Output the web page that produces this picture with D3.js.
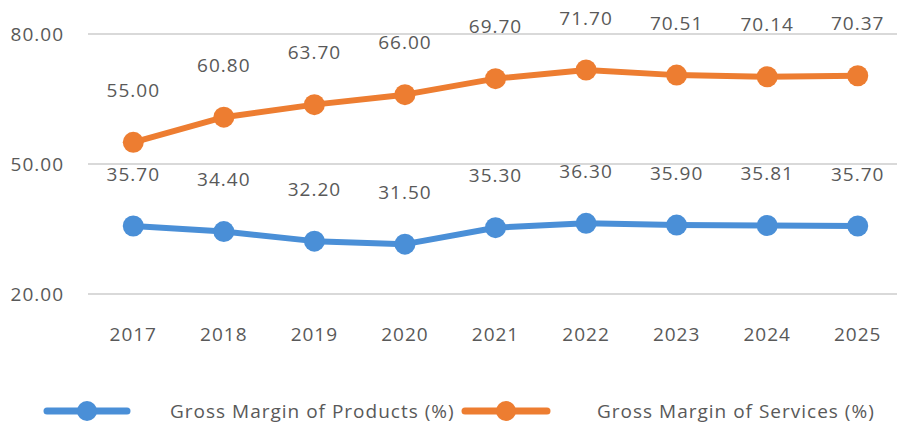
<!DOCTYPE html>
<html lang="en">
<head>
    <meta charset="UTF-8">
    <title>Gross Margin</title>
    <script src="https://d3js.org/d3.v7.min.js"></script>
    <style>
        body { margin: 0; background: #fff; }
        text { font-family: "Open Sans", sans-serif; fill: #595959; letter-spacing: 1px; }
    </style>
</head>
<body>
    <div id="chart"></div>
    <script>
        // Chart data
        const years = ["2017", "2018", "2019", "2020", "2021", "2022", "2023", "2024", "2025"];
        const products = [35.70, 34.40, 32.20, 31.50, 35.30, 36.30, 35.90, 35.81, 35.70];
        const services = [55.00, 60.80, 63.70, 66.00, 69.70, 71.70, 70.51, 70.14, 70.37];
        const yTicks = [20, 50, 80];
        const seriesNames = ["Gross Margin of Products (%)", "Gross Margin of Services (%)"];

        const width = 897, height = 429;
        const blue = "#4a8fd7", orange = "#ed7d31";

        const svg = d3.select("#chart").append("svg")
            .attr("width", width)
            .attr("height", height);

        // Scales
        const x = d3.scalePoint().domain(years).range([88, 903]).padding(0.5);
        const y = d3.scaleLinear().domain([20, 80]).range([294, 34]);

        // Gridlines + y labels
        svg.append("g").selectAll("line")
            .data(yTicks)
            .enter().append("line")
            .attr("x1", 88).attr("x2", width)
            .attr("y1", d => y(d)).attr("y2", d => y(d))
            .style("stroke", "#d9d9d9")
            .style("stroke-width", 2);

        svg.append("g").selectAll("text")
            .data(yTicks)
            .enter().append("text")
            .attr("x", 64)
            .attr("y", d => y(d))
            .attr("dy", "0.35em")
            .attr("text-anchor", "end")
            .style("font-size", "19px")
            .text(d => d.toFixed(2));

        // x labels
        svg.append("g").selectAll("text")
            .data(years)
            .enter().append("text")
            .attr("x", d => x(d))
            .attr("y", 334)
            .attr("dy", "0.35em")
            .attr("text-anchor", "middle")
            .style("font-size", "19px")
            .text(d => d);

        const series = [
            { name: seriesNames[0], values: products, color: blue },
            { name: seriesNames[1], values: services, color: orange }
        ];

        const line = d3.line()
            .x((d, i) => x(years[i]))
            .y(d => y(d));

        series.forEach(s => {
            svg.append("path")
                .datum(s.values)
                .attr("d", line)
                .style("fill", "none")
                .style("stroke", s.color)
                .style("stroke-width", 6)
                .style("stroke-linejoin", "round");

            svg.append("g").selectAll("circle")
                .data(s.values)
                .enter().append("circle")
                .attr("cx", (d, i) => x(years[i]))
                .attr("cy", d => y(d))
                .attr("r", 10.5)
                .style("fill", s.color);

            svg.append("g").selectAll("text")
                .data(s.values)
                .enter().append("text")
                .attr("x", (d, i) => x(years[i]))
                .attr("y", d => y(d) - 52)
                .attr("dy", "0.35em")
                .attr("text-anchor", "middle")
                .style("font-size", "19px")
                .text(d => d.toFixed(2));
        });

        // Legend
        const legendPos = [{ x1: 47, x2: 127, tx: 170 }, { x1: 465, x2: 547, tx: 597 }];
        series.forEach((s, i) => {
            const p = legendPos[i];
            const g = svg.append("g");
            g.append("line")
                .attr("x1", p.x1).attr("x2", p.x2)
                .attr("y1", 411).attr("y2", 411)
                .style("stroke", s.color)
                .style("stroke-width", 7)
                .style("stroke-linecap", "round");
            g.append("circle")
                .attr("cx", (p.x1 + p.x2) / 2)
                .attr("cy", 411)
                .attr("r", 10)
                .style("fill", s.color);
            g.append("text")
                .attr("x", p.tx)
                .attr("y", 411)
                .attr("dy", "0.35em")
                .style("font-size", "19px")
                .text(s.name);
        });
    </script>
</body>
</html>
